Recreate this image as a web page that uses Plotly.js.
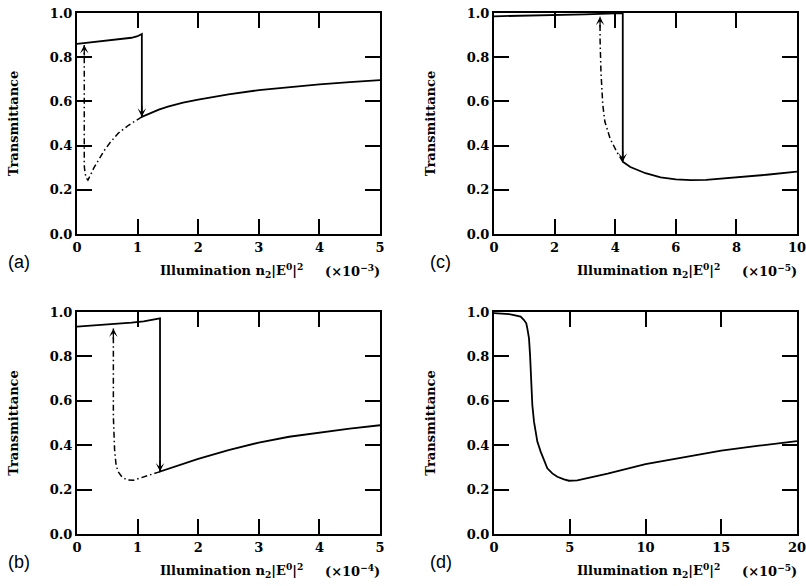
<!DOCTYPE html>
<html>
<head>
<meta charset="utf-8">
<script src="https://cdn.plot.ly/plotly-3.0.1.min.js"></script>
<style>html,body{margin:0;padding:0;background:#fff;}#chart{width:806px;height:586px;}</style>
</head>
<body>
<div id="chart"></div>
<script>
// ---------- Panel (a): illumination in units of 1e-3 ----------
const a_upperX = [0, 0.25, 0.5, 0.75, 0.9, 1.0, 1.07];
const a_upperY = [0.860, 0.867, 0.874, 0.881, 0.888, 0.895, 0.905];
const a_lowerX = [1.07, 1.2, 1.35, 1.5, 1.75, 2.0, 2.5, 3.0, 3.5, 4.0, 4.5, 5.0];
const a_lowerY = [0.530, 0.547, 0.563, 0.576, 0.594, 0.608, 0.632, 0.651, 0.665, 0.677, 0.687, 0.696];
const a_unstX = [1.07, 1.0, 0.85, 0.68, 0.55, 0.45, 0.35, 0.28, 0.22, 0.18, 0.15, 0.13, 0.12, 0.12];
const a_unstY = [0.530, 0.519, 0.492, 0.456, 0.415, 0.378, 0.335, 0.300, 0.265, 0.244, 0.255, 0.280, 0.310, 0.855];

// ---------- Panel (b): units of 1e-4 ----------
const b_upperX = [0, 0.3, 0.6, 0.9, 1.1, 1.25, 1.37];
const b_upperY = [0.934, 0.939, 0.945, 0.952, 0.958, 0.964, 0.971];
const b_lowerX = [1.37, 1.6, 2.0, 2.5, 3.0, 3.5, 4.0, 4.5, 5.0];
const b_lowerY = [0.281, 0.303, 0.338, 0.378, 0.412, 0.438, 0.458, 0.475, 0.490];
const b_unstX = [1.37, 1.23, 1.07, 0.93, 0.82, 0.74, 0.68, 0.645, 0.62, 0.61, 0.60, 0.60];
const b_unstY = [0.281, 0.269, 0.256, 0.242, 0.244, 0.258, 0.280, 0.310, 0.380, 0.450, 0.530, 0.926];

// ---------- Panel (c): units of 1e-5 ----------
const c_upperX = [0, 1, 2, 3, 3.5, 4.0, 4.25];
const c_upperY = [0.985, 0.987, 0.990, 0.994, 0.996, 0.998, 1.0];
const c_lowerX = [4.25, 4.5, 5.0, 5.5, 6.0, 6.5, 7.0, 8.0, 9.0, 10.0];
const c_lowerY = [0.327, 0.303, 0.275, 0.256, 0.247, 0.244, 0.245, 0.256, 0.268, 0.282];
const c_unstX = [4.25, 4.05, 3.83, 3.66, 3.59, 3.53, 3.50, 3.50];
const c_unstY = [0.327, 0.372, 0.433, 0.508, 0.584, 0.734, 0.885, 0.983];

// ---------- Panel (d): units of 1e-5 ----------
const d_X = [0, 0.5, 1.0, 1.32, 1.76, 1.98, 2.13, 2.2, 2.31, 2.38, 2.42, 2.46, 2.53, 2.64, 2.75, 2.86, 3.08, 3.3, 3.52, 3.85, 4.18, 4.62, 4.95, 5.5, 6.6, 7.5, 10, 12.5, 15, 17.5, 20];
const d_Y = [0.995, 0.994, 0.990, 0.986, 0.979, 0.964, 0.949, 0.926, 0.881, 0.806, 0.731, 0.656, 0.581, 0.506, 0.461, 0.416, 0.371, 0.333, 0.296, 0.273, 0.258, 0.246, 0.240, 0.242, 0.258, 0.272, 0.315, 0.346, 0.376, 0.398, 0.418];

// ---------- Labels ----------
const panelLabels = ['(a)', '(b)', '(c)', '(d)'];
const exponents = ['−3', '−4', '−5', '−5'];
const xRanges = [[0, 5], [0, 5], [0, 10], [0, 20]];
const xDticks = [1, 1, 2, 5];
const yTitle = 'Transmittance';
const xTitleMain = 'Illumination n<sub>2</sub>|E<sup>0</sup>|<sup>2</sup>';

const serif = 'DejaVu Serif, serif';
const solid = {color: '#000', width: 1.8};
const dashdot = {color: '#000', width: 1.5, dash: '6px,3px,1.5px,3px'};

const traces = [
  {x: a_upperX.concat(a_lowerX), y: a_upperY.concat(a_lowerY), xaxis: 'x', yaxis: 'y', mode: 'lines', line: solid},
  {x: a_unstX, y: a_unstY, xaxis: 'x', yaxis: 'y', mode: 'lines', line: dashdot},
  {x: b_upperX.concat(b_lowerX), y: b_upperY.concat(b_lowerY), xaxis: 'x2', yaxis: 'y2', mode: 'lines', line: solid},
  {x: b_unstX, y: b_unstY, xaxis: 'x2', yaxis: 'y2', mode: 'lines', line: dashdot},
  {x: c_upperX.concat(c_lowerX), y: c_upperY.concat(c_lowerY), xaxis: 'x3', yaxis: 'y3', mode: 'lines', line: solid},
  {x: c_unstX, y: c_unstY, xaxis: 'x3', yaxis: 'y3', mode: 'lines', line: dashdot},
  {x: d_X, y: d_Y, xaxis: 'x4', yaxis: 'y4', mode: 'lines', line: solid}
];

const W = 806, H = 586;
// pixel boxes [left, right, top, bottom]
const boxes = [[77, 380, 13, 234], [77, 380, 312, 534], [494, 797, 13, 234], [494, 797, 312, 534]];

function xAxis(i, anchor) {
  const b = boxes[i];
  return {
    domain: [b[0] / W, b[1] / W], anchor: anchor, range: xRanges[i], dtick: xDticks[i], tick0: 0,
    ticks: 'inside', ticklen: 15, tickwidth: 2, tickcolor: '#000',
    showline: true, linewidth: 2, linecolor: '#000', mirror: 'ticks',
    showgrid: false, zeroline: false, ticklabeloverflow: 'allow',
    tickfont: {family: serif, size: 13, color: '#000', weight: 'bold'}
  };
}
function yAxis(i, anchor) {
  const b = boxes[i];
  return {
    domain: [1 - b[3] / H, 1 - b[2] / H], anchor: anchor, range: [0, 1], dtick: 0.2, tick0: 0, tickformat: '.1f',
    ticks: 'inside', ticklen: 15, tickwidth: 2, tickcolor: '#000',
    showline: true, linewidth: 2, linecolor: '#000', mirror: 'ticks',
    showgrid: false, zeroline: false, ticklabeloverflow: 'allow',
    tickfont: {family: serif, size: 13, color: '#000', weight: 'bold'},
    title: {text: yTitle, standoff: 28, font: {family: serif, size: 13, color: '#000', weight: 'bold'}}
  };
}

const axNames = [['x', 'y'], ['x2', 'y2'], ['x3', 'y3'], ['x4', 'y4']];
const annotations = [];
axNames.forEach((n, i) => {
  annotations.push({
    xref: n[0] + ' domain', yref: n[1] + ' domain', x: 81 / 303, y: 0, yshift: -36,
    xanchor: 'left', yanchor: 'middle', showarrow: false, text: xTitleMain,
    font: {family: serif, size: 13, color: '#000', weight: 'bold'}
  });
  annotations.push({
    xref: n[0] + ' domain', yref: n[1] + ' domain', x: 1, y: 0, yshift: -36, xshift: 2,
    xanchor: 'right', yanchor: 'middle', showarrow: false, text: '(×10<sup>' + exponents[i] + '</sup>)',
    font: {family: serif, size: 13, color: '#000', weight: 'bold'}
  });
  annotations.push({
    xref: n[0] + ' domain', yref: n[1] + ' domain', x: (i < 2 ? -71 : -66) / 303, y: 0, yshift: -28,
    xanchor: 'left', yanchor: 'middle', showarrow: false, text: panelLabels[i],
    font: {family: 'Liberation Sans, Arial, sans-serif', size: 18, color: '#000'}
  });
});

// arrowheads at the ends of the jumps
function arrowHead(xa, ya, x, y, dir) {
  annotations.push({
    xref: xa, yref: ya, x: x, y: y, ax: 0, ay: dir === 'down' ? -12 : 12, axref: 'pixel', ayref: 'pixel',
    text: '', showarrow: true, arrowhead: 3, arrowsize: 1.1, arrowwidth: 1.3, arrowcolor: '#000', standoff: 0
  });
}
arrowHead('x', 'y', a_lowerX[0], a_lowerY[0], 'down');
arrowHead('x', 'y', a_unstX[a_unstX.length - 1], a_unstY[a_unstY.length - 1], 'up');
arrowHead('x2', 'y2', b_lowerX[0], b_lowerY[0], 'down');
arrowHead('x2', 'y2', b_unstX[b_unstX.length - 1], b_unstY[b_unstY.length - 1], 'up');
arrowHead('x3', 'y3', c_lowerX[0], c_lowerY[0], 'down');
arrowHead('x3', 'y3', c_unstX[c_unstX.length - 1], c_unstY[c_unstY.length - 1], 'up');

const layout = {
  width: W, height: H, margin: {l: 0, r: 0, t: 0, b: 0, pad: 0},
  paper_bgcolor: '#fff', plot_bgcolor: '#fff', showlegend: false,
  xaxis: xAxis(0, 'y'), yaxis: yAxis(0, 'x'),
  xaxis2: xAxis(1, 'y2'), yaxis2: yAxis(1, 'x2'),
  xaxis3: xAxis(2, 'y3'), yaxis3: yAxis(2, 'x3'),
  xaxis4: xAxis(3, 'y4'), yaxis4: yAxis(3, 'x4'),
  annotations: annotations
};

Plotly.newPlot('chart', traces, layout, {staticPlot: true, displayModeBar: false});
</script>
</body>
</html>
